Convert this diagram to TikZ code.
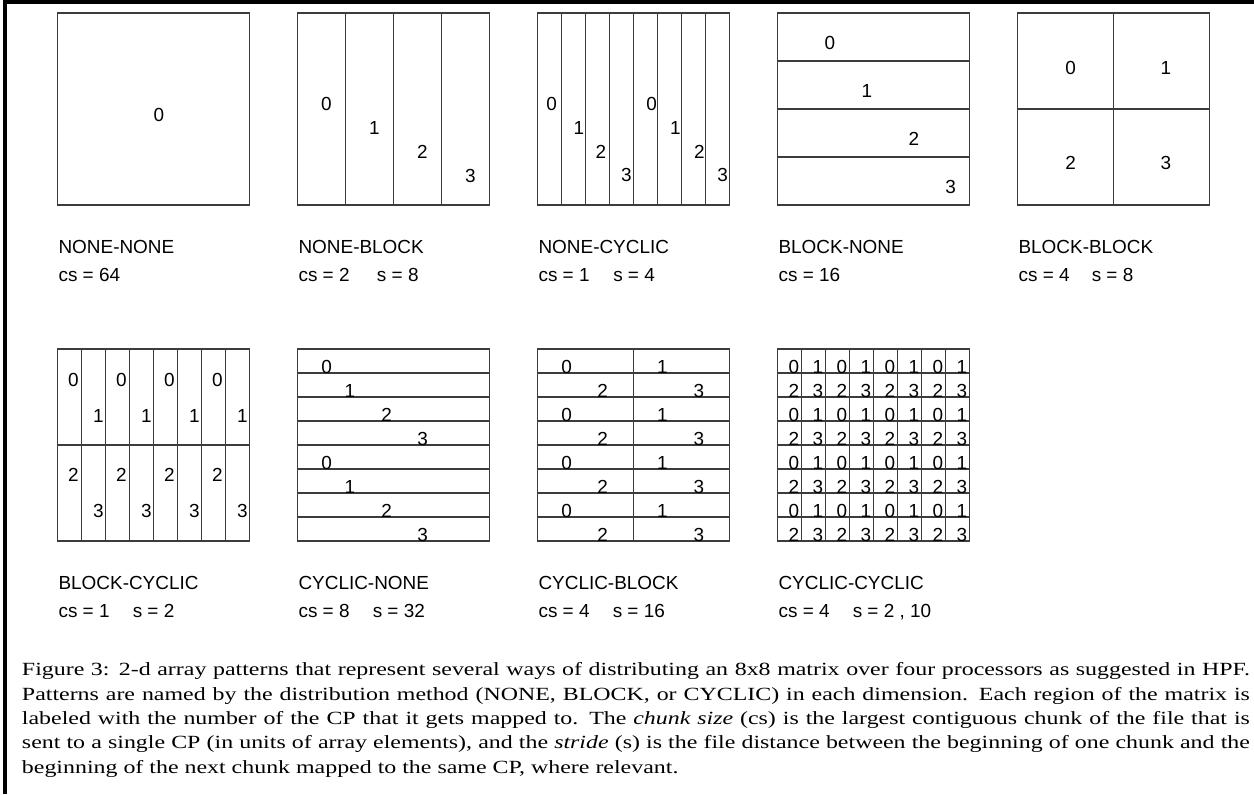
\documentclass[tikz,border=0pt]{standalone}
\usepackage{fontspec}
\setmainfont{Liberation Serif}
\newfontfamily\lsans{Liberation Sans}
\definecolor{gridc}{RGB}{60,60,60}
\newcommand{\capline}[1]{\scalebox{1.285}[1]{\makebox[716.7pt][s]{#1}}}
\newcommand{\caplast}[1]{\scalebox{1.285}[1]{#1}}
\begin{document}
\begin{tikzpicture}[x=0.75pt,y=-0.75pt,
  gline/.style={draw=gridc, line width=0.8pt},
  num/.style={font=\lsans\fontsize{14.2}{17}\selectfont, inner sep=0pt},
  lab/.style={font=\lsans\fontsize{14.2}{17}\selectfont, inner sep=0pt, anchor=base west},
  captext/.style={font=\fontsize{13.95}{18.3}\selectfont, inner sep=0pt, anchor=base west}]
\useasboundingbox (0,0) rectangle (1254,794);
\fill[white] (0,0) rectangle (1254,794);
% frame
\draw[line width=2.8pt, line join=miter] (5,794) -- (5,2) -- (1254,2);

% ---------- top row ----------
% box 1 NONE-NONE
\draw[gline] (57.5,13) rectangle ++(192,192);
\node[num] (a0) at (159,115) {0};
% box 2 NONE-BLOCK
\draw[gline] (297.5,13) rectangle ++(192,192);
\foreach \k in {1,2,3} \draw[gline] ({297.5+48*\k},13) -- ++(0,192);
\foreach \k in {0,1,2,3} \node[num] (b\k) at ({326.5+48*\k},{104+24*\k}) {\k};
% box 3 NONE-CYCLIC
\draw[gline] (537.5,13) rectangle ++(192,192);
\foreach \k in {1,...,7} \draw[gline] ({537.5+24*\k},13) -- ++(0,192);
\foreach \i/\d/\xx/\yy in {0/0/551.7/104,1/1/579/128,2/2/601/152,3/3/626.5/175,
                          4/0/651.7/104,5/1/675.5/128,6/2/699.3/152,7/3/722.7/175}
  \node[num] (c\i) at (\xx,\yy) {\d};
% box 4 BLOCK-NONE
\draw[gline] (777.5,13) rectangle ++(192,192);
\foreach \k in {1,2,3} \draw[gline] (777.5,{13+48*\k}) -- ++(192,0);
\foreach \d/\xx/\yy in {0/830/42.7,1/867/90.7,2/914/139,3/950.7/186.7}
  \node[num] (d\d) at (\xx,\yy) {\d};
% box 5 BLOCK-BLOCK
\draw[gline] (1017.5,13) rectangle ++(192,192);
\draw[gline] (1113.5,13) -- ++(0,192);
\draw[gline] (1017.5,109) -- ++(192,0);
\foreach \d/\xx/\yy in {0/1070.7/68.3,1/1166/68.3,2/1070.7/163.3,3/1166/163.3}
  \node[num] (e\d) at (\xx,\yy) {\d};

% ---------- bottom row ----------
% box 6 BLOCK-CYCLIC
\draw[gline] (57.5,349) rectangle ++(192,192);
\foreach \k in {1,...,7} \draw[gline] ({57.5+24*\k},349) -- ++(0,192);
\draw[gline] (57.5,445) -- ++(192,0);
\foreach \j in {0,1,2,3} {
  \node[num] (f0-\j) at ({73.3+48*\j},380) {0};
  \node[num] (f1-\j) at ({98.3+48*\j},416) {1};
  \node[num] (f2-\j) at ({73.3+48*\j},475) {2};
  \node[num] (f3-\j) at ({98.3+48*\j},511) {3};
}
% box 7 CYCLIC-NONE
\draw[gline] (297.5,349) rectangle ++(192,192);
\foreach \k in {1,...,7} \draw[gline] (297.5,{349+24*\k}) -- ++(192,0);
\foreach \r/\d/\xx in {0/0/326.7,1/1/350,2/2/386.7,3/3/422.7,4/0/326.7,5/1/350,6/2/386.7,7/3/422.7}
  \node[num, anchor=base] (g\r) at (\xx,{373+24*\r}) {\d};
% box 8 CYCLIC-BLOCK
\draw[gline] (537.5,349) rectangle ++(192,192);
\foreach \k in {1,...,7} \draw[gline] (537.5,{349+24*\k}) -- ++(192,0);
\draw[gline] (633.5,349) -- ++(0,192);
\foreach \r/\a/\b/\xa/\xb in {0/0/1/566.7/662.3,1/2/3/602.7/699,2/0/1/566.7/662.3,3/2/3/602.7/699,
                              4/0/1/566.7/662.3,5/2/3/602.7/699,6/0/1/566.7/662.3,7/2/3/602.7/699} {
  \node[num, anchor=base] (h\r a) at (\xa,{373+24*\r}) {\a};
  \node[num, anchor=base] (h\r b) at (\xb,{373+24*\r}) {\b};
}
% box 9 CYCLIC-CYCLIC
\draw[gline] (777.5,349) rectangle ++(192,192);
\foreach \k in {1,...,7} {
  \draw[gline] (777.5,{349+24*\k}) -- ++(192,0);
  \draw[gline] ({777.5+24*\k},349) -- ++(0,192);
}
\foreach \r in {0,...,7} {
  \foreach \k in {0,...,7} {
    \pgfmathtruncatemacro{\dd}{2*mod(\r,2)+mod(\k,2)}
    \node[num, anchor=base] (i\r-\k) at ({794+24*\k},{373+24*\r}) {\dd};
  }
}

% ---------- labels ----------
\node[lab] (l1) at (58.3,253.3) {NONE-NONE};
\node[lab] (l1c) at (58.3,281.7) {cs = 64};
\node[lab] (l2) at (298.3,253.3) {NONE-BLOCK};
\node[lab] (l2c) at (298.3,281.7) {cs = 2};
\node[lab] (l2s) at (376.7,281.7) {s = 8};
\node[lab] (l3) at (538.3,253.3) {NONE-CYCLIC};
\node[lab] (l3c) at (538.3,281.7) {cs = 1};
\node[lab] (l3s) at (613,281.7) {s = 4};
\node[lab] (l4) at (778.3,253.3) {BLOCK-NONE};
\node[lab] (l4c) at (778.3,281.7) {cs = 16};
\node[lab] (l5) at (1018.3,253.3) {BLOCK-BLOCK};
\node[lab] (l5c) at (1018.3,281.7) {cs = 4};
\node[lab] (l5s) at (1091.5,281.7) {s = 8};

\node[lab] (l6) at (58.3,589.3) {BLOCK-CYCLIC};
\node[lab] (l6c) at (58.3,617.7) {cs = 1};
\node[lab] (l6s) at (132.5,617.7) {s = 2};
\node[lab] (l7) at (298.3,589.3) {CYCLIC-NONE};
\node[lab] (l7c) at (298.3,617.7) {cs = 8};
\node[lab] (l7s) at (372.5,617.7) {s = 32};
\node[lab] (l8) at (538.3,589.3) {CYCLIC-BLOCK};
\node[lab] (l8c) at (538.3,617.7) {cs = 4};
\node[lab] (l8s) at (612.5,617.7) {s = 16};
\node[lab] (l9) at (778.3,589.3) {CYCLIC-CYCLIC};
\node[lab] (l9c) at (778.3,617.7) {cs = 4};
\node[lab] (l9s) at (852.5,617.7) {s = 2 , 10};

% ---------- caption ----------
\node[captext] (cap1) at (21.7,675.7) {\capline{Figure 3: 2-d array patterns that represent several ways of distributing an 8x8 matrix over four processors as suggested in HPF.}};
\node[captext] (cap2) at (21.7,700.1) {\capline{Patterns are named by the distribution method (NONE, BLOCK, or CYCLIC) in each dimension. Each region of the matrix is}};
\node[captext] (cap3) at (21.7,724.5) {\capline{labeled with the number of the CP that it gets mapped to. The \textit{chunk size} (cs) is the largest contiguous chunk of the file that is}};
\node[captext] (cap4) at (21.7,748.9) {\capline{sent to a single CP (in units of array elements), and the \textit{stride} (s) is the file distance between the beginning of one chunk and the}};
\node[captext] (cap5) at (21.7,773.3) {\caplast{beginning of the next chunk mapped to the same CP, where relevant.}};
\end{tikzpicture}
\end{document}
